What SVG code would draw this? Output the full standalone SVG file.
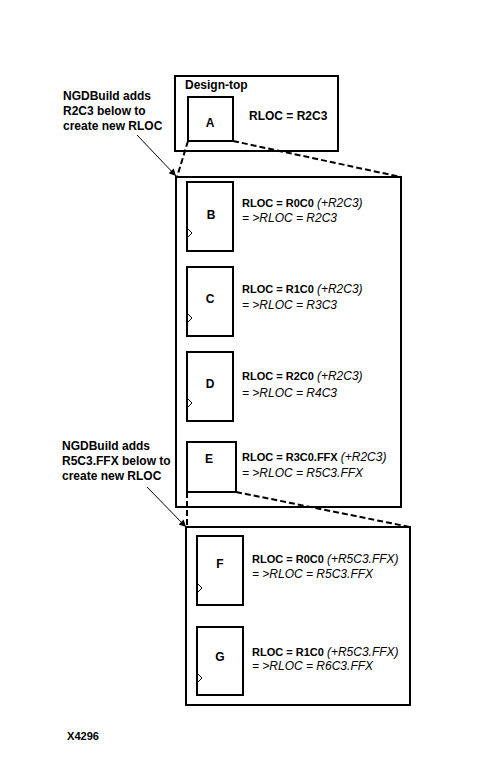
<svg xmlns="http://www.w3.org/2000/svg" width="490" height="777" viewBox="0 0 490 777">
<defs>
<marker id="ah" viewBox="0 0 10 10" refX="10" refY="5" markerWidth="9" markerHeight="7" markerUnits="userSpaceOnUse" orient="auto">
<path d="M0,0 L10,5 L0,10 z" fill="#000"/>
</marker>
<style>
.box{fill:#fff;stroke:#000;stroke-width:2}
.cell{fill:#fff;stroke:#000;stroke-width:2}
.clk{fill:none;stroke:#000;stroke-width:1}
.dash{fill:none;stroke:#000;stroke-width:2;stroke-dasharray:6 3}
.arr{fill:none;stroke:#000;stroke-width:1}
text{font-family:"Liberation Sans",Arial,sans-serif;fill:#000}
.note{font-size:12px;font-weight:bold}
.lbl{font-size:12px;font-weight:bold;text-anchor:middle}
.r{font-size:11px;font-weight:bold}
.it{font-size:12px;font-style:italic;font-weight:normal}
</style>
</defs>
<rect width="490" height="777" fill="#fff"/>

<g id="design-top">
<rect class="box" x="175" y="76" width="163" height="75"/>
<text class="note" x="185" y="89" font-size="11.5">Design-top</text>
<text class="note" x="249" y="120">RLOC = R2C3</text>
</g>
<g id="node-A">
<rect class="cell" x="188" y="97" width="45" height="44"/>
<text class="lbl" x="210" y="127">A</text>
</g>

<g id="macro-1">
<rect class="box" x="176" y="177" width="225" height="330"/>
</g>
<g id="node-B">
<rect class="cell" x="187" y="182" width="46" height="69"/>
<path class="clk" d="M187,228 L192,233 L187,238"/>
<text class="lbl" x="211" y="219">B</text>
<text x="242" y="207"><tspan class="r">RLOC = R0C0 </tspan><tspan class="it">(+R2C3)</tspan></text>
<text class="it" x="242" y="222">= &gt;RLOC = R2C3</text>
</g>
<g id="node-C">
<rect class="cell" x="187" y="267" width="46" height="69"/>
<path class="clk" d="M187,313 L192,318 L187,323"/>
<text class="lbl" x="210" y="303">C</text>
<text x="242" y="293"><tspan class="r">RLOC = R1C0 </tspan><tspan class="it">(+R2C3)</tspan></text>
<text class="it" x="242" y="309">= &gt;RLOC = R3C3</text>
</g>
<g id="node-D">
<rect class="cell" x="187" y="352" width="46" height="69"/>
<path class="clk" d="M187,398 L192,403 L187,408"/>
<text class="lbl" x="210" y="388">D</text>
<text x="242" y="380"><tspan class="r">RLOC = R2C0 </tspan><tspan class="it">(+R2C3)</tspan></text>
<text class="it" x="242" y="397">= &gt;RLOC = R4C3</text>
</g>
<g id="node-E">
<rect class="cell" x="187" y="442" width="49" height="50"/>
<text class="lbl" x="209" y="463">E</text>
<text x="242" y="461"><tspan class="r">RLOC = R3C0.FFX </tspan><tspan class="it">(+R2C3)</tspan></text>
<text class="it" x="242" y="477">= &gt;RLOC = R5C3.FFX</text>
</g>

<g id="macro-2">
<rect class="box" x="186" y="527" width="224" height="178"/>
</g>
<g id="node-F">
<rect class="cell" x="197" y="536" width="46" height="69"/>
<path class="clk" d="M197,583 L202,588 L197,593"/>
<text class="lbl" x="220" y="568">F</text>
<text x="252" y="563"><tspan class="r">RLOC = R0C0 </tspan><tspan class="it">(+R5C3.FFX)</tspan></text>
<text class="it" x="252" y="578">= &gt;RLOC = R5C3.FFX</text>
</g>
<g id="node-G">
<rect class="cell" x="197" y="627" width="46" height="68"/>
<path class="clk" d="M197,673 L202,678 L197,683"/>
<text class="lbl" x="220" y="661">G</text>
<text x="252" y="656"><tspan class="r">RLOC = R1C0 </tspan><tspan class="it">(+R5C3.FFX)</tspan></text>
<text class="it" x="252" y="670">= &gt;RLOC = R6C3.FFX</text>
</g>

<g id="note-1">
<text class="note" x="63" y="100">NGDBuild adds</text>
<text class="note" x="63" y="115">R2C3 below to</text>
<text class="note" x="63" y="130">create new RLOC</text>
</g>
<g id="note-2">
<text class="note" x="62" y="450">NGDBuild adds</text>
<text class="note" x="62" y="465">R5C3.FFX below to</text>
<text class="note" x="62" y="480">create new RLOC</text>
</g>

<g id="connectors">
<line class="dash" x1="188" y1="141" x2="177" y2="177"/>
<line class="dash" x1="233" y1="141" x2="401" y2="177"/>
<line class="dash" x1="187" y1="492" x2="187" y2="527"/>
<line class="dash" x1="236" y1="492" x2="410" y2="527"/>
<line class="arr" x1="137" y1="135" x2="176" y2="176" marker-end="url(#ah)"/>
<line class="arr" x1="147" y1="487" x2="186" y2="527" marker-end="url(#ah)"/>
</g>

<text x="67" y="740" font-size="10" font-weight="bold" textLength="32" lengthAdjust="spacingAndGlyphs">X4296</text>
</svg>
